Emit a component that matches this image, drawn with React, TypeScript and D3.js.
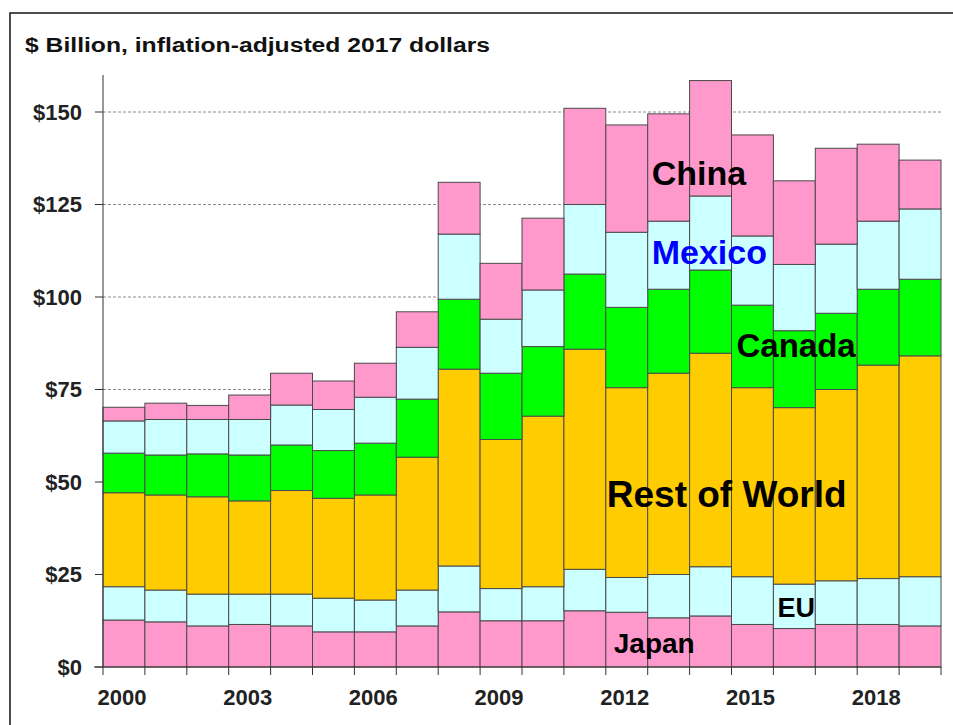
import React from "react";
import * as d3 from "d3";

const years = [2000,2001,2002,2003,2004,2005,2006,2007,2008,2009,2010,2011,2012,2013,2014,2015,2016,2017,2018,2019];
const japan = [12.7,12.2,11.1,11.5,11.1,9.5,9.5,11.1,14.9,12.5,12.5,15.2,14.8,13.3,13.8,11.5,10.4,11.5,11.5,11.1];
const eu = [9.0,8.6,8.6,8.2,8.6,9.1,8.6,9.7,12.4,8.7,9.2,11.2,9.4,11.7,13.3,12.9,12.0,11.8,12.4,13.3];
const restOfWorld = [25.4,25.7,26.3,25.2,28.0,27.0,28.4,35.9,53.2,40.3,46.1,59.5,51.3,54.4,57.7,51.1,47.7,51.7,57.7,59.7];
const canada = [10.7,10.8,11.6,12.4,12.3,12.9,14.0,15.7,18.9,17.9,18.8,20.3,21.7,22.7,22.5,22.3,20.8,20.6,20.5,20.7];
const mexico = [8.7,9.6,9.3,9.6,10.8,11.1,12.4,14.0,17.6,14.6,15.3,18.8,20.3,18.4,20.0,18.7,17.9,18.7,18.4,19.0];
const china = [3.7,4.4,3.8,6.6,8.6,7.7,9.2,9.6,14.0,15.1,19.4,26.0,29.0,29.0,31.2,27.3,22.6,25.9,20.8,13.2];

const seriesKeys = ["Japan", "EU", "Rest of World", "Canada", "Mexico", "China"];
const seriesValues = [japan, eu, restOfWorld, canada, mexico, china];
const seriesColors = ["#FF99CC", "#CCFFFF", "#FFCC00", "#00FF00", "#CCFFFF", "#FF99CC"];
const yTicks = [0, 25, 50, 75, 100, 125, 150];
const xTickLabels = [2000, 2003, 2006, 2009, 2012, 2015, 2018];
const title = "$ Billion, inflation-adjusted 2017 dollars";

export default function App() {
  const W = 953, H = 725;
  const left = 103, right = 941, bottom = 667, top = 75;
  const x = d3.scaleBand<number>().domain(years).range([left, right]).padding(0);
  const y = d3.scaleLinear().domain([0, 160]).range([bottom, top]);

  const table = years.map((yr, i) => {
    const row: any = { year: yr };
    seriesKeys.forEach((k, j) => (row[k] = seriesValues[j][i]));
    return row;
  });
  const stacked = d3.stack<any>().keys(seriesKeys)(table);

  const font = "'Liberation Sans', Arial, sans-serif";
  const bw = x.bandwidth();

  const labels = [
    { text: "China", year: 2013, dx: 4, v: 130.3, size: 34, color: "#000" },
    { text: "Mexico", year: 2013, dx: 4, v: 109, size: 34, color: "#0000FF" },
    { text: "Canada", year: 2015, dx: 5, v: 83.8, size: 33, color: "#000" },
    { text: "Rest of World", year: 2012, dx: 1, v: 43.2, size: 37, color: "#000" },
    { text: "EU", year: 2016, dx: 4, v: 13.5, size: 27, color: "#000" },
    { text: "Japan", year: 2012, dx: 8, v: 3.8, size: 28, color: "#000" },
  ];

  return (
    <svg width={W} height={H} style={{ position: "absolute", left: 0, top: 0, background: "#fff" }}>
      <rect x={10} y={13} width={980} height={760} fill="#fff" stroke="#222" strokeWidth={1.6} />
      <text x={25} y={52} fontFamily={font} fontWeight="bold" fontSize={20} textLength={465} lengthAdjust="spacingAndGlyphs" fill="#111">
        {title}
      </text>
      {/* gridlines */}
      {yTicks.filter((t) => t > 0).map((t) => (
        <line key={t} x1={left} x2={942} y1={y(t)} y2={y(t)} stroke="#8a8a8a" strokeWidth={1} strokeDasharray="3,2" />
      ))}
      {/* bars */}
      {stacked.map((s, j) => (
        <g key={s.key} fill={seriesColors[j]}>
          {s.map((d, i) => (
            <rect key={i} x={x(years[i])!} y={y(d[1])} width={bw} height={y(d[0]) - y(d[1])} stroke="#4a4a4a" strokeWidth={1} />
          ))}
        </g>
      ))}
      {/* y axis */}
      <line x1={left} x2={left} y1={top} y2={bottom} stroke="#333" strokeWidth={1} />
      {yTicks.map((t) => (
        <g key={t}>
          <line x1={95} x2={left} y1={y(t)} y2={y(t)} stroke="#333" strokeWidth={1} />
          <text x={82} y={y(t)} dy="0.36em" textAnchor="end" fontFamily={font} fontWeight="bold" fontSize={22} fill="#222">
            {"$" + t}
          </text>
        </g>
      ))}
      {/* x axis */}
      <line x1={94} x2={right} y1={bottom} y2={bottom} stroke="#333" strokeWidth={1} />
      {years.map((yr) => (
        <line key={yr} x1={x(yr)!} x2={x(yr)!} y1={bottom} y2={bottom + 8} stroke="#333" strokeWidth={1} />
      ))}
      <line x1={right} x2={right} y1={bottom} y2={bottom + 8} stroke="#333" strokeWidth={1} />
      {xTickLabels.map((yr) => (
        <text key={yr} x={x(yr)! + bw / 2 - 2} y={705} textAnchor="middle" fontFamily={font} fontWeight="bold" fontSize={22} fill="#222">
          {yr}
        </text>
      ))}
      {/* series labels */}
      {labels.map((l) => (
        <text key={l.text} x={x(l.year)! + l.dx} y={y(l.v)} fontFamily={font} fontWeight="bold" fontSize={l.size} fill={l.color}>
          {l.text}
        </text>
      ))}
    </svg>
  );
}
